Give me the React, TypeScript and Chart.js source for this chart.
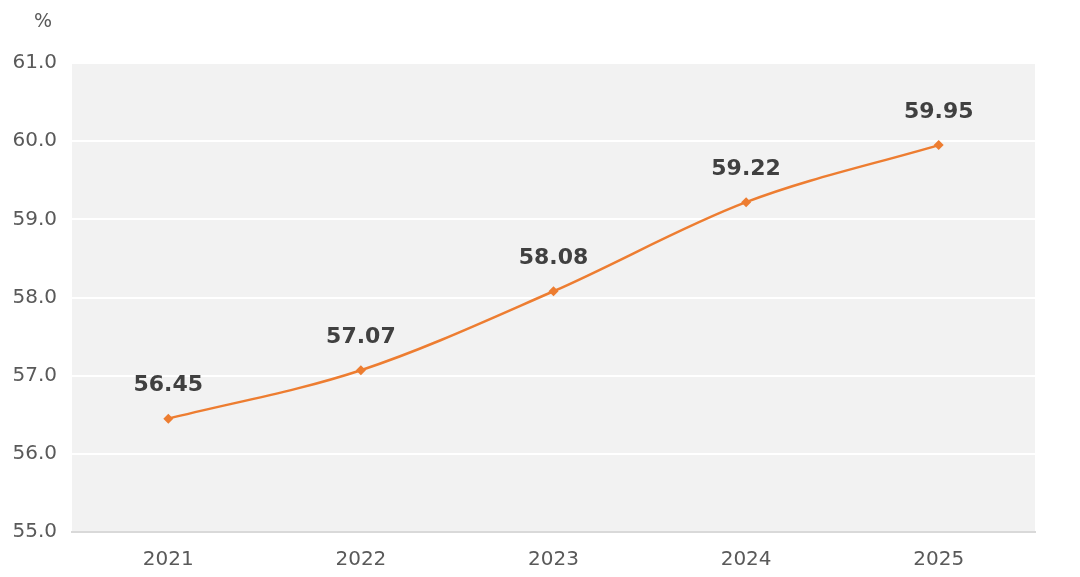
import React, { useEffect, useRef } from "react";
import { Chart, registerables } from "chart.js";

Chart.register(...registerables);

const categories = ["2021", "2022", "2023", "2024", "2025"];
const values = [56.45, 57.07, 58.08, 59.22, 59.95];
const yTicks = [55, 56, 57, 58, 59, 60, 61];
const unitLabel = "%";

const FONT = "'DejaVu Sans', sans-serif";

const bgPlugin = {
  id: "bgPlugin",
  beforeDraw(chart: any) {
    const { ctx, chartArea } = chart;
    ctx.save();
    ctx.fillStyle = "#f2f2f2";
    ctx.fillRect(chartArea.left, chartArea.top, chartArea.right - chartArea.left, chartArea.bottom - chartArea.top);
    ctx.restore();
  },
  afterDraw(chart: any) {
    const { ctx } = chart;
    ctx.save();
    ctx.fillStyle = "#595959";
    ctx.font = `19px ${FONT}`;
    ctx.textAlign = "center";
    ctx.textBaseline = "middle";
    ctx.fillText(unitLabel, 43, 22);
    const meta = chart.getDatasetMeta(0);
    ctx.fillStyle = "#404040";
    ctx.font = `bold 22px ${FONT}`;
    ctx.textBaseline = "middle";
    meta.data.forEach((pt: any, i: number) => {
      ctx.fillText(values[i].toFixed(2), pt.x, pt.y - 33);
    });
    ctx.restore();
  },
};

export default function App() {
  const ref = useRef<HTMLCanvasElement>(null);
  useEffect(() => {
    document.body.style.margin = "0";
    const chart = new Chart(ref.current!, {
      type: "line",
      data: {
        labels: categories,
        datasets: [
          {
            data: values,
            borderColor: "#ed7d31",
            backgroundColor: "#ed7d31",
            borderWidth: 2.5,
            pointStyle: "rectRot",
            pointRadius: 5,
            pointBorderWidth: 0,
            tension: 0.4,
            cubicInterpolationMode: "monotone",
          },
        ],
      },
      options: {
        responsive: false,
        animation: false,
        layout: { padding: { top: 63, right: 45, left: 0, bottom: 0 } },
        plugins: { legend: { display: false }, tooltip: { enabled: false } },
        scales: {
          x: {
            offset: true,
            grid: { display: false },
            border: { color: "#d9d9d9", width: 2 },
            ticks: { color: "#595959", font: { family: FONT, size: 20 }, padding: 8 },
            afterFit(s: any) {
              s.height = 45;
            },
          },
          y: {
            min: yTicks[0],
            max: yTicks[yTicks.length - 1],
            afterBuildTicks(s: any) {
              s.ticks = yTicks.map((v) => ({ value: v }));
            },
            grid: { color: "#ffffff", lineWidth: 2, drawTicks: false },
            border: { display: false },
            ticks: {
              color: "#595959",
              font: { family: FONT, size: 20 },
              padding: 15,
              callback: (v: any) => Number(v).toFixed(1),
            },
            afterFit(s: any) {
              s.width = 72;
            },
          },
        },
      },
      plugins: [bgPlugin],
    });
    return () => chart.destroy();
  }, []);
  return (
    <div style={{ position: "absolute", left: 0, top: 0, width: 1080, height: 577 }}>
      <canvas ref={ref} width={1080} height={577} style={{ display: "block" }} />
    </div>
  );
}
